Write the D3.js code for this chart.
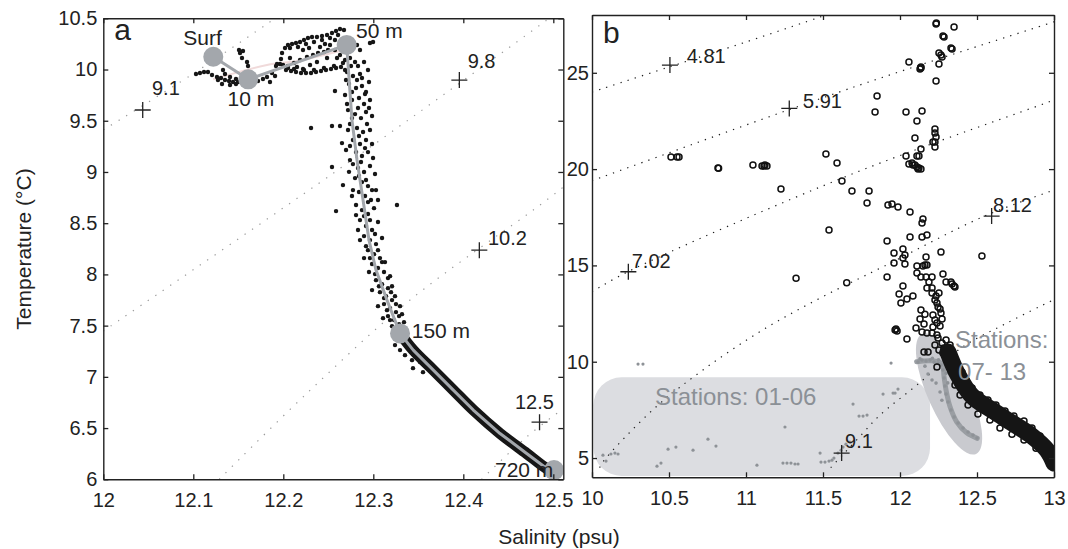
<!DOCTYPE html>
<html>
<head>
<meta charset="utf-8">
<script src="https://cdn.jsdelivr.net/npm/d3@7/dist/d3.min.js"></script>
<style>
  body { margin: 0; background: #fff; }
  svg { display: block; }
  text { font-family: "Liberation Sans", Arial, Helvetica, sans-serif; }
</style>
</head>
<body>
<svg id="chart" width="1068" height="549"></svg>
<script>
// ===================== Panel a : single deep profile =====================
const ticksSalA = [12, 12.1, 12.2, 12.3, 12.4, 12.5];
const ticksTempA = [6, 6.5, 7, 7.5, 8, 8.5, 9, 9.5, 10, 10.5];

// potential-density isolines (salinity, temperature)
const isopycnalsA = [
  [[12.0, 9.41], [12.10, 9.96], [12.191, 10.5]],
  [[12.0, 7.447], [12.2552, 8.986], [12.4852, 10.434], [12.4952, 10.5]],
  [[12.1288, 6.0], [12.2263, 6.84], [12.3408, 7.75], [12.4852, 8.677], [12.5111, 8.853]],
  [[12.4204, 6.0], [12.4704, 6.414], [12.5074, 6.666]]
];
// density markers: sigma label, cross position, label position
const sigmaLabelsA = ["9.1", "9.8", "10.2", "12.5"];
const sigmaCrossA = [[12.0438, 9.605], [12.3956, 9.897], [12.4178, 8.237], [12.4847, 6.558]];
const sigmaTextA = [[12.0541, 9.751], [12.4048, 10.015], [12.4274, 8.286], [12.4574, 6.685]];

// depth markers on the mean profile
const depthLabels = ["Surf", "10 m", "50 m", "150 m", "720 m"];
const depthPoints = [[12.1222, 10.125], [12.161, 9.904], [12.2704, 10.24], [12.3297, 7.424], [12.5008, 6.09]];
const depthTextPos = [[12.1102, 10.239], [12.1639, 9.644], [12.2808, 10.3125], [12.3427, 7.378], [12.4352, 6.021]];
const depthTextAnchor = ["middle", "middle", "start", "start", "start"];

// mean profile (grey line)
const meanProfileA = [
  [12.1222, 10.125], [12.161, 9.904], [12.2704, 10.24], [12.2763, 9.507], [12.2819, 9.117],
  [12.2886, 8.726], [12.2952, 8.335], [12.3030, 8.042], [12.3152, 7.749], [12.3297, 7.424],
  [12.3444, 7.261], [12.3667, 7.066], [12.3889, 6.871], [12.4111, 6.676], [12.4408, 6.447],
  [12.4704, 6.252], [12.4927, 6.105], [12.5008, 6.09]
];
// faint near-surface trace
const surfaceTraceA = [[12.1221, 9.905], [12.1819, 10.044], [12.2152, 10.083], [12.263, 10.18]];

// dense deep part of the CTD cast (150 m to bottom)
const deepBandA = [
  [12.3297, 7.424], [12.3444, 7.261], [12.3667, 7.066], [12.3889, 6.871], [12.4111, 6.676],
  [12.4408, 6.447], [12.4704, 6.252], [12.4927, 6.105], [12.5, 6.082]
];

// individual CTD samples
const ctdSamplesA = [
  // near-surface
  [12.1074, 9.966], [12.1119, 9.976], [12.1163, 9.976], [12.1208, 9.946], [12.1263, 9.927],
  [12.1308, 9.917], [12.1352, 9.897], [12.1397, 9.888], [12.1441, 9.878], [12.1497, 9.878],
  [12.1541, 9.888], [12.1330, 9.995], [12.1352, 9.956], [12.1519, 10.161], [12.1552, 10.181],
  [12.1541, 10.112], [12.1597, 10.073], [12.1608, 10.034], [12.1508, 10.19], [12.1663, 9.897],
  [12.1719, 9.888], [12.1774, 9.907], [12.1819, 9.927], [12.1874, 9.966], [12.1919, 10.034],
  [12.1974, 10.102], [12.1986, 10.161], [12.1963, 10.054], [12.1997, 10.044], [12.1930, 10.054],
  [12.1030, 9.956], [12.1408, 9.927], [12.1474, 9.907], [12.1274, 9.897], [12.1319, 9.858],
  [12.1408, 9.849], [12.1474, 9.858], [12.1852, 9.878], [12.1908, 9.937],
  // upper-layer loop
  [12.2052, 10.239], [12.2097, 10.249], [12.2141, 10.259], [12.2186, 10.269], [12.2230, 10.288],
  [12.2274, 10.308], [12.2319, 10.317], [12.2374, 10.317], [12.2430, 10.327], [12.2486, 10.337],
  [12.2541, 10.356], [12.2586, 10.376], [12.2630, 10.396], [12.2674, 10.386],
  [12.2074, 10.210], [12.2163, 10.220], [12.2252, 10.249], [12.2341, 10.269], [12.2430, 10.288],
  [12.2519, 10.308], [12.2608, 10.337], [12.2574, 10.288], [12.2463, 10.249],
  [12.2030, 9.995], [12.2086, 9.985], [12.2141, 9.976], [12.2197, 9.966], [12.2252, 9.966],
  [12.2308, 9.966], [12.2363, 9.976], [12.2419, 9.985], [12.2474, 9.995], [12.2530, 10.005],
  [12.2586, 10.015], [12.2641, 10.024],
  [12.2052, 10.015], [12.2119, 10.005], [12.2230, 9.995], [12.2341, 9.995], [12.2452, 10.015],
  [12.2563, 10.034], [12.2663, 10.063], [12.2686, 9.995],
  [12.2119, 10.063], [12.2186, 10.093], [12.2263, 10.122], [12.2330, 10.142], [12.2386, 10.161],
  [12.2452, 10.171], [12.2486, 10.112], [12.2374, 10.073], [12.2297, 10.044], [12.2519, 10.239],
  [12.2574, 10.19], [12.2630, 10.142], [12.2052, 10.034], [12.2152, 10.024], [12.2219, 10.005],
  [12.2219, 10.190], [12.2286, 10.210], [12.2408, 10.220], [12.2497, 10.190], [12.2597, 10.112],
  [12.2663, 10.210], [12.2074, 10.112], [12.2019, 10.210],
  [12.2819, 10.239], [12.2852, 10.19], [12.2963, 10.259], [12.2997, 10.269],
  // thermocline column
  [12.2686, 10.093], [12.2741, 10.112], [12.2797, 10.073], [12.2830, 10.034], [12.2708, 9.976],
  [12.2774, 9.937], [12.2852, 9.956], [12.2730, 9.858], [12.2808, 9.819], [12.2874, 9.839],
  [12.2686, 9.751], [12.2763, 9.702], [12.2841, 9.722], [12.2897, 9.663], [12.2719, 9.604],
  [12.2797, 9.565], [12.2863, 9.526], [12.2919, 9.585], [12.2741, 9.468], [12.2819, 9.429],
  [12.2886, 9.390], [12.2774, 9.312], [12.2852, 9.273], [12.2919, 9.312], [12.2808, 9.194],
  [12.2874, 9.156], [12.2941, 9.194], [12.2741, 9.116], [12.2830, 9.038], [12.2897, 8.999],
  [12.2963, 9.058], [12.2797, 8.940], [12.2874, 8.901], [12.2941, 8.862], [12.2841, 8.804],
  [12.2908, 8.765], [12.2974, 8.726], [12.2808, 8.677], [12.2874, 8.628], [12.2941, 8.589],
  [12.3008, 8.647], [12.2852, 8.530], [12.2919, 8.472], [12.2986, 8.433], [12.3052, 8.511],
  [12.2897, 8.374], [12.2963, 8.335], [12.3030, 8.296], [12.3097, 8.355], [12.2941, 8.237],
  [12.3008, 8.198], [12.3074, 8.159], [12.2986, 8.101], [12.3052, 8.062], [12.3119, 8.023],
  [12.3030, 7.944], [12.3097, 7.905], [12.3163, 7.866], [12.3074, 7.827], [12.3141, 7.788],
  [12.3208, 7.749], [12.3119, 7.710], [12.3186, 7.671], [12.3252, 7.632], [12.3163, 7.593],
  [12.3230, 7.554], [12.3286, 7.515], [12.3208, 7.495], [12.3341, 7.534],
  [12.2752, 10.034], [12.2697, 9.897], [12.2819, 9.897], [12.2763, 9.780], [12.2908, 9.761],
  [12.2708, 9.663], [12.2830, 9.624], [12.2763, 9.526], [12.2930, 9.468], [12.2841, 9.351],
  [12.2741, 9.253], [12.2908, 9.233], [12.2774, 9.077], [12.2863, 9.097], [12.2841, 8.960],
  [12.2919, 8.921], [12.2774, 8.823], [12.2986, 8.823], [12.2941, 8.706], [12.2897, 8.569],
  [12.2963, 8.530], [12.2830, 8.433], [12.3019, 8.394], [12.2919, 8.276], [12.3052, 8.237],
  [12.2963, 8.159], [12.3097, 8.120], [12.3019, 8.003], [12.3163, 7.964], [12.3063, 7.885],
  [12.3197, 7.827], [12.3119, 7.769], [12.3252, 7.710], [12.3152, 7.651], [12.3286, 7.593],
  [12.3186, 7.554], [12.3252, 7.476],
  [12.2897, 10.073], [12.2941, 9.995], [12.2874, 9.917], [12.2952, 9.878], [12.2919, 9.780],
  [12.2963, 9.702], [12.2952, 9.624], [12.2986, 9.546], [12.2963, 9.409], [12.2986, 9.273],
  [12.2997, 9.136], [12.3019, 8.980], [12.3030, 8.823], [12.3052, 8.726], [12.2719, 9.409],
  [12.2697, 9.214], [12.2730, 9.001], [12.2763, 8.765], [12.2808, 8.579], [12.2852, 8.335],
  [12.2897, 8.159], [12.2952, 8.023], [12.2986, 7.847], [12.3052, 7.690], [12.3108, 7.573],
  [12.3130, 8.120], [12.3186, 7.983], [12.3208, 7.885], [12.3241, 7.788], [12.3297, 7.690],
  [12.3319, 7.612],
  // outliers
  [12.2308, 9.429], [12.2541, 9.448], [12.2630, 9.448], [12.2574, 9.790], [12.2586, 8.618],
  [12.3263, 8.677], [12.2652, 9.282], [12.2541, 9.048], [12.2663, 8.872],
  // just below 150 m
  [12.3241, 7.310], [12.3297, 7.261], [12.3352, 7.212], [12.3430, 7.163], [12.3519, 7.144],
  [12.3463, 7.241], [12.3441, 7.085], [12.3552, 7.046]
];

// ===================== Panel b : all stations =====================
const ticksSalB = [10, 10.5, 11, 11.5, 12, 12.5, 13];
const ticksTempB = [5, 10, 15, 20, 25];

const isopycnalsB = [
  [[10.0, 24.0], [10.5, 25.3], [11.0, 26.6], [11.52, 28.0]],
  [[10.0, 19.4], [10.07, 19.6], [11.7, 24.26], [12.97, 27.57], [13.0, 27.65]],
  [[10.0, 13.63], [10.23, 14.66], [11.7, 19.78], [12.97, 23.5], [13.0, 23.6]],
  [[10.05, 4.5], [10.07, 4.79], [10.4, 7.54], [10.72, 9.57], [11.09, 11.56], [11.48, 13.3],
   [11.89, 14.93], [12.54, 17.53], [12.97, 18.83], [13.0, 18.92]],
  [[11.55, 4.5], [11.64, 5.27], [11.76, 6.30], [11.87, 7.23], [12.11, 8.79], [12.41, 10.78],
   [12.69, 11.99], [12.97, 13.11], [13.0, 13.22]]
];
const sigmaLabelsB = ["4.81", "5.91", "7.02", "8.12", "9.1"];
const sigmaCrossB = [[10.506, 25.40], [11.281, 23.15], [10.236, 14.67], [12.595, 17.56], [11.621, 5.26]];
const sigmaTextB = [[10.615, 25.49], [11.370, 23.17], [10.258, 14.86], [12.604, 17.79], [11.643, 5.52]];

// station groups
const groupLabels = ["Stations: 01-06", "Stations:", "07- 13"];
const groupBox = [[10.01, 9.19], [12.195, 4.07]];          // shaded box, stations 01-06
const groupEllipseTips = [[12.143, 11.44], [12.494, 5.21]];  // shaded ellipse, stations 07-13
const groupTextPos = [[10.409, 7.75], [12.357, 10.71], [12.377, 9.05]];

// stations 01-06 (grey samples)
const stations0106 = [
  [10.299, 9.88], [10.331, 9.88], [10.071, 5.15], [10.123, 5.21], [10.149, 5.26], [10.169, 5.21],
  [10.091, 4.84], [10.422, 4.58], [10.448, 4.74], [10.494, 5.46], [10.545, 5.57], [10.656, 5.41],
  [10.753, 5.98], [10.805, 5.62], [11.071, 4.63], [11.253, 6.61], [11.240, 4.74], [11.266, 4.74],
  [11.292, 4.74], [11.318, 4.69], [11.338, 4.69], [11.481, 5.26], [11.487, 4.79], [11.513, 4.79],
  [11.539, 4.84], [11.558, 4.89], [11.571, 5.0], [11.597, 5.26], [11.617, 5.41], [11.630, 5.57],
  [11.649, 5.72], [11.675, 5.83], [11.695, 7.80], [11.734, 7.18], [11.760, 7.18], [11.786, 7.23],
  [11.890, 8.32], [11.955, 8.37], [11.968, 8.37], [11.987, 8.58], [11.942, 9.93]
];
// stations 07-13 (grey samples, deep trace)
const stations0713Trace = [
  [12.108, 10.0], [12.195, 10.05], [12.271, 9.92], [12.286, 9.22], [12.299, 8.53],
  [12.325, 7.66], [12.368, 6.88], [12.433, 6.31], [12.502, 6.02]
];
const stations0713 = [
  [12.117, 9.98], [12.143, 10.09], [12.169, 10.04], [12.195, 10.09], [12.221, 9.98], [12.247, 9.93],
  [12.266, 9.83], [12.279, 9.57], [12.286, 9.15], [12.292, 8.74], [12.299, 8.32], [12.312, 7.91],
  [12.331, 7.49], [12.351, 7.13], [12.377, 6.82], [12.409, 6.56], [12.442, 6.35], [12.474, 6.19],
  [12.500, 6.04], [12.182, 9.36], [12.208, 9.05], [12.234, 8.89], [12.162, 9.77], [12.260, 8.43],
  [12.130, 10.15], [12.210, 10.18], [12.250, 10.1], [12.300, 9.4], [12.310, 8.9], [12.272, 8.0]
];

// stations with open circles (upper water column)
const stationsOpen = [
  [10.513, 20.63], [10.552, 20.63], [10.565, 20.63], [10.818, 20.06], [10.822, 20.04],
  [11.045, 20.21], [11.104, 20.16], [11.117, 20.16], [11.136, 20.16], [11.123, 20.21],
  [11.227, 18.97], [11.519, 20.78], [11.591, 20.32], [11.623, 19.38], [11.688, 18.86],
  [11.539, 16.84], [11.325, 14.34], [11.654, 14.10],
  [12.234, 27.53], [12.236, 27.58], [12.351, 27.38], [12.279, 26.91], [12.286, 26.86],
  [12.331, 26.29], [12.338, 26.24], [12.253, 26.03], [12.266, 25.92], [12.273, 25.82],
  [12.253, 25.46], [12.058, 25.56], [12.136, 25.30], [12.136, 25.25], [12.130, 25.2],
  [12.234, 24.57], [11.851, 23.79], [11.838, 22.96], [12.039, 22.96], [12.143, 23.02],
  [12.110, 22.50], [12.227, 22.08], [12.227, 21.87], [12.234, 21.67], [12.227, 21.41],
  [12.227, 21.15], [12.214, 21.41], [12.097, 21.61], [12.136, 21.04], [12.039, 20.68],
  [12.110, 20.68], [12.123, 20.68], [12.058, 20.26], [12.078, 20.32], [12.097, 20.21],
  [12.110, 20.11], [12.123, 20.06], [12.136, 20.0], [12.084, 20.21], [12.117, 20.0],
  [11.799, 18.86], [11.786, 18.24], [11.922, 18.13], [11.948, 18.19], [11.987, 18.03],
  [12.065, 17.77], [12.149, 17.41], [12.143, 17.20], [11.916, 16.27], [12.065, 16.47],
  [12.143, 16.47], [12.175, 16.58], [12.266, 15.69], [12.019, 15.85], [12.032, 15.54],
  [11.961, 15.64], [12.169, 15.44], [12.110, 14.97], [12.162, 15.02], [12.110, 14.60],
  [12.136, 14.40], [12.169, 14.40], [12.208, 14.40], [12.279, 14.55], [12.532, 15.49],
  [11.916, 14.40], [11.961, 15.12], [12.019, 15.38], [12.032, 15.07], [12.175, 15.02],
  [12.149, 14.97], [12.188, 14.14], [12.208, 13.83], [12.299, 14.14], [12.331, 14.14],
  [12.351, 13.93], [12.338, 14.04], [12.357, 13.88], [12.019, 13.93], [11.994, 13.51],
  [12.006, 13.05], [12.045, 13.25], [12.084, 13.41], [12.175, 13.83], [12.208, 13.57],
  [12.227, 13.20], [12.240, 13.05], [12.247, 12.84], [12.260, 12.74], [12.234, 13.41],
  [12.253, 13.57], [12.136, 12.68], [12.162, 12.47], [12.130, 12.22], [12.156, 11.96],
  [12.214, 12.42], [12.227, 12.16], [12.240, 12.01], [12.266, 12.53], [12.273, 12.22],
  [12.260, 11.85], [12.214, 11.80], [12.208, 11.49], [12.240, 11.39], [11.974, 11.70],
  [11.981, 11.59], [11.968, 11.65], [12.045, 11.18], [12.104, 11.75], [12.143, 11.54],
  [12.175, 11.49], [12.247, 11.23], [12.273, 10.97], [12.299, 11.13], [12.286, 10.71],
  [12.253, 10.61], [12.227, 10.87], [12.305, 10.61], [12.279, 10.45], [12.325, 10.87],
  [12.156, 10.50], [12.182, 10.50], [12.331, 10.30], [12.344, 9.98], [12.364, 9.88],
  [12.240, 9.72], [12.370, 9.46], [12.377, 9.20], [12.383, 8.94],
  [12.403, 9.46], [12.429, 9.05], [12.468, 8.63], [12.519, 8.27], [12.571, 8.01],
  [12.623, 7.75], [12.682, 7.44], [12.740, 7.18], [12.805, 6.92], [12.857, 6.56], [12.909, 6.14],
  [12.357, 8.79], [12.390, 8.27], [12.442, 7.75], [12.506, 7.28], [12.584, 6.97],
  [12.649, 6.56], [12.727, 6.24], [12.805, 5.93], [12.883, 5.51], [12.948, 5.10]
];
// dense deep part of stations 07-13
const deepBandB = [
  [12.3117, 10.50], [12.3766, 9.31], [12.4675, 8.22], [12.5974, 7.49], [12.7273, 6.82],
  [12.8571, 6.14], [12.9545, 5.41], [13.0, 4.74]
];

// ===================== drawing =====================
const svg = d3.select("#chart");
const INK = "#222";
const GREY_MARK = "#a3a7ac";

const xA = d3.scaleLinear().domain([12, 12.5111]).range([103.3, 563.3]);
const yA = d3.scaleLinear().domain([6, 10.5]).range([479.3, 18.3]);
const xB = d3.scaleLinear().domain([10, 13]).range([592, 1054]);
const yB = d3.scaleLinear().domain([4, 28]).range([477.3, 15]);

const defs = svg.append("defs");
function clipFor(id, x, y) {
  defs.append("clipPath").attr("id", id).append("rect")
    .attr("x", x.range()[0]).attr("y", y.range()[1])
    .attr("width", x.range()[1] - x.range()[0])
    .attr("height", y.range()[0] - y.range()[1]);
}
clipFor("clipA", xA, yA);
clipFor("clipB", xB, yB);

function drawFrame(x, y, xt, yt, padY) {
  const g = svg.append("g");
  const fmt = d => String(d);
  const y0 = y.range()[0], y1 = y.range()[1], x0 = x.range()[0], x1 = x.range()[1];
  g.append("g").attr("transform", `translate(0,${y0})`)
    .call(d3.axisBottom(x).tickValues(xt).tickSize(-5).tickSizeOuter(0).tickPadding(13.5).tickFormat(fmt));
  g.append("g").attr("transform", `translate(0,${y1})`)
    .call(d3.axisTop(x).tickValues(xt).tickSize(-5).tickSizeOuter(0).tickFormat(""));
  g.append("g").attr("transform", `translate(${x0},0)`)
    .call(d3.axisLeft(y).tickValues(yt).tickSize(-5).tickSizeOuter(0).tickPadding(padY).tickFormat(fmt));
  g.append("g").attr("transform", `translate(${x1},0)`)
    .call(d3.axisRight(y).tickValues(yt).tickSize(-5).tickSizeOuter(0).tickFormat(""));
  g.selectAll(".domain").attr("stroke", INK).attr("stroke-width", 1.4);
  g.selectAll(".tick line").attr("stroke", INK).attr("stroke-width", 1.3);
  g.selectAll(".tick text").attr("fill", INK).attr("font-size", 20)
    .attr("font-family", '"Liberation Sans", Arial, sans-serif');
  return g;
}

const lineGen = (x, y) => d3.line().x(d => x(d[0])).y(d => y(d[1])).curve(d3.curveCatmullRom);
const polyGen = (x, y) => d3.line().x(d => x(d[0])).y(d => y(d[1]));

function crosses(g, pts, x, y) {
  g.selectAll(null).data(pts).join("path")
    .attr("d", d => {
      const cx = x(d[0]), cy = y(d[1]), r = 8;
      return `M${cx - r},${cy}H${cx + r}M${cx},${cy - r}V${cy + r}`;
    })
    .attr("stroke", INK).attr("stroke-width", 1.3).attr("fill", "none");
}

// ---------- panel a ----------
const gA = svg.append("g").attr("clip-path", "url(#clipA)");
gA.selectAll(null).data(isopycnalsA).join("path")
  .attr("d", lineGen(xA, yA)).attr("fill", "none")
  .attr("stroke", "#9a9a9a").attr("stroke-width", 1.2).attr("stroke-dasharray", "1.3 7.7");
gA.append("path").datum(surfaceTraceA).attr("d", lineGen(xA, yA))
  .attr("fill", "none").attr("stroke", "#f0dada").attr("stroke-width", 2);
gA.selectAll(null).data(ctdSamplesA).join("circle")
  .attr("cx", d => xA(d[0])).attr("cy", d => yA(d[1])).attr("r", 2.2).attr("fill", "#161616");
gA.append("path").datum(deepBandA).attr("d", lineGen(xA, yA))
  .attr("fill", "none").attr("stroke", "#161616").attr("stroke-width", 11)
  .attr("stroke-linecap", "round").attr("stroke-linejoin", "round");
gA.append("path").datum(meanProfileA).attr("d", polyGen(xA, yA))
  .attr("fill", "none").attr("stroke", GREY_MARK).attr("stroke-width", 3)
  .attr("stroke-linejoin", "round");
gA.selectAll(null).data(depthPoints).join("circle")
  .attr("cx", d => xA(d[0])).attr("cy", d => yA(d[1])).attr("r", 10).attr("fill", GREY_MARK);

const gAtop = svg.append("g");
crosses(gAtop, sigmaCrossA, xA, yA);
gAtop.selectAll(null).data(sigmaLabelsA).join("text")
  .attr("x", (d, i) => xA(sigmaTextA[i][0])).attr("y", (d, i) => yA(sigmaTextA[i][1]))
  .attr("font-size", 20).attr("fill", INK).text(d => d);
gAtop.selectAll(null).data(depthLabels).join("text")
  .attr("x", (d, i) => xA(depthTextPos[i][0])).attr("y", (d, i) => yA(depthTextPos[i][1]))
  .attr("text-anchor", (d, i) => depthTextAnchor[i])
  .attr("font-size", 21).attr("fill", INK).text(d => d);

drawFrame(xA, yA, ticksSalA, ticksTempA, 6);
svg.append("text").attr("x", xA.range()[0] + 11).attr("y", yA.range()[1] + 22)
  .attr("font-size", 30).attr("fill", INK).text("a");

// ---------- panel b ----------
const gB = svg.append("g").attr("clip-path", "url(#clipB)");
const bx0 = xB(groupBox[0][0]), by0 = yB(groupBox[0][1]);
gB.append("rect").attr("x", bx0).attr("y", by0)
  .attr("width", xB(groupBox[1][0]) - bx0).attr("height", yB(groupBox[1][1]) - by0)
  .attr("rx", 28).attr("ry", 28).attr("fill", "#dcdde1");
{
  const p1 = [xB(groupEllipseTips[0][0]), yB(groupEllipseTips[0][1])];
  const p2 = [xB(groupEllipseTips[1][0]), yB(groupEllipseTips[1][1])];
  const cx = (p1[0] + p2[0]) / 2, cy = (p1[1] + p2[1]) / 2;
  const len = Math.hypot(p2[0] - p1[0], p2[1] - p1[1]);
  const ang = Math.atan2(p2[1] - p1[1], p2[0] - p1[0]) * 180 / Math.PI;
  gB.append("ellipse").attr("cx", 0).attr("cy", 0).attr("rx", len / 2).attr("ry", 21)
    .attr("transform", `translate(${cx},${cy}) rotate(${ang})`).attr("fill", "#c9cacf");
}
gB.selectAll(null).data(isopycnalsB).join("path")
  .attr("d", lineGen(xB, yB)).attr("fill", "none")
  .attr("stroke", "#1e1e1e").attr("stroke-width", 1.2).attr("stroke-dasharray", "1.3 6.2");
gB.selectAll(null).data(stations0106).join("circle")
  .attr("cx", d => xB(d[0])).attr("cy", d => yB(d[1])).attr("r", 1.6).attr("fill", "#8e9297");
gB.append("path").datum(stations0713Trace).attr("d", lineGen(xB, yB))
  .attr("fill", "none").attr("stroke", "#9a9ea3").attr("stroke-width", 5)
  .attr("stroke-linecap", "round").attr("stroke-linejoin", "round");
gB.selectAll(null).data(stations0713).join("circle")
  .attr("cx", d => xB(d[0])).attr("cy", d => yB(d[1])).attr("r", 1.8).attr("fill", "#8e9297");
gB.selectAll(null).data(stationsOpen).join("circle")
  .attr("cx", d => xB(d[0])).attr("cy", d => yB(d[1])).attr("r", 3)
  .attr("fill", "none").attr("stroke", "#111").attr("stroke-width", 1.5);
gB.append("path").datum(deepBandB).attr("d", lineGen(xB, yB))
  .attr("fill", "none").attr("stroke", "#151515").attr("stroke-width", 17)
  .attr("stroke-linecap", "round").attr("stroke-linejoin", "round");

const gBtop = svg.append("g");
crosses(gBtop, sigmaCrossB, xB, yB);
gBtop.selectAll(null).data(sigmaLabelsB).join("text")
  .attr("x", (d, i) => xB(sigmaTextB[i][0])).attr("y", (d, i) => yB(sigmaTextB[i][1]))
  .attr("font-size", 20).attr("fill", INK).text(d => d);
gBtop.selectAll(null).data(groupLabels).join("text")
  .attr("x", (d, i) => xB(groupTextPos[i][0])).attr("y", (d, i) => yB(groupTextPos[i][1]))
  .attr("font-size", 24).attr("fill", "#8b9096").text(d => d);

drawFrame(xB, yB, ticksSalB, ticksTempB, 3);
svg.append("text").attr("x", xB.range()[0] + 11).attr("y", yB.range()[1] + 28)
  .attr("font-size", 30).attr("fill", INK).text("b");

// ---------- shared axis titles ----------
svg.append("text").attr("transform", "translate(31,249) rotate(-90)")
  .attr("text-anchor", "middle").attr("font-size", 21).attr("fill", INK)
  .text("Temperature (°C)");
svg.append("text").attr("x", 559).attr("y", 544)
  .attr("text-anchor", "middle").attr("font-size", 21).attr("fill", INK)
  .text("Salinity (psu)");
</script>
</body>
</html>
